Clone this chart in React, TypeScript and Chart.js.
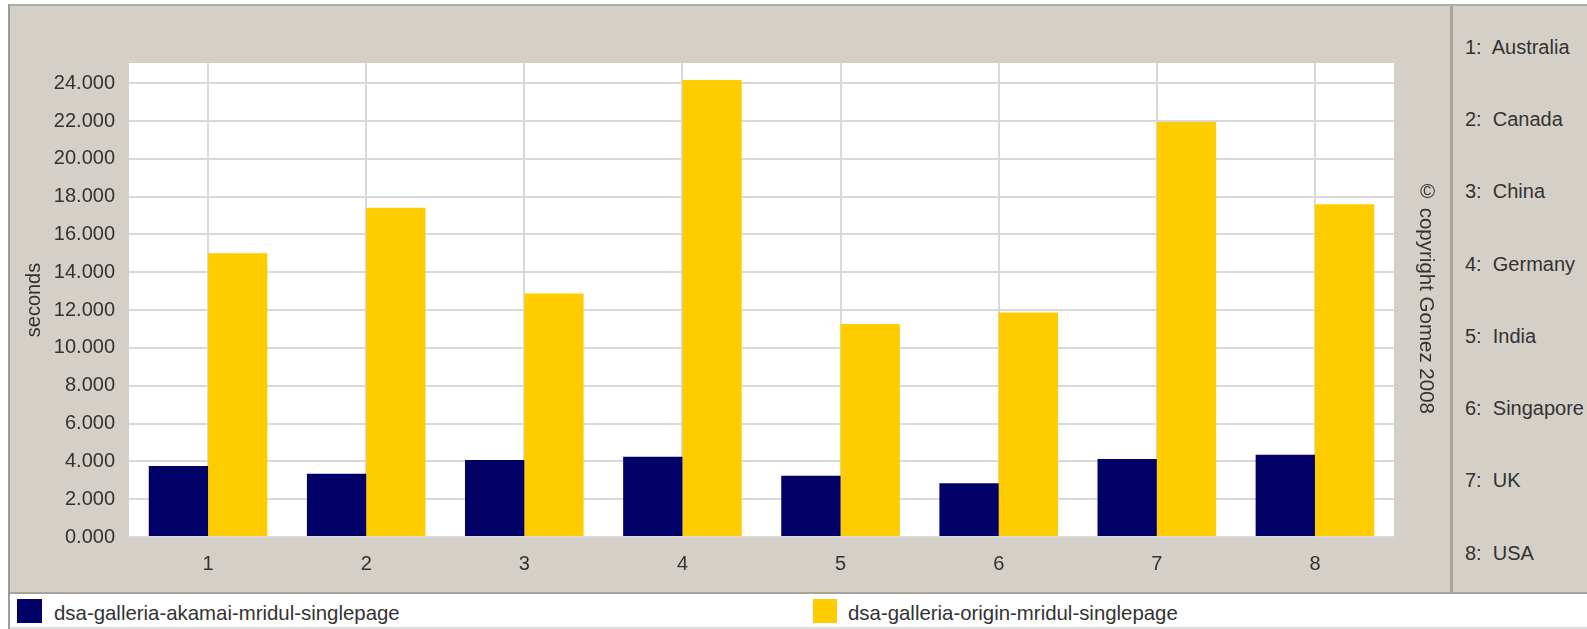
import React, { useEffect, useRef } from "react";
import { Chart, registerables } from "chart.js";

Chart.register(...registerables);

const countryNames = ["Australia", "Canada", "China", "Germany", "India", "Singapore", "UK", "USA"];
const categoryLabels = ["1", "2", "3", "4", "5", "6", "7", "8"];
const seriesNames = ["dsa-galleria-akamai-mridul-singlepage", "dsa-galleria-origin-mridul-singlepage"];
const akamaiSeconds = [3.75, 3.35, 4.07, 4.24, 3.24, 2.84, 4.12, 4.35];
const originSeconds = [15.01, 17.42, 12.88, 24.17, 11.27, 11.87, 21.95, 17.6];
const yAxisTitle = "seconds";
const copyrightText = "© copyright Gomez 2008";
const yMax = 25.07;
const yStep = 2;

const FONT = '"Liberation Sans", Arial, Helvetica, sans-serif';
const TEXT = "#333333";
const GRID = "#d9d9d9";
const PANEL = "#d4d0c8";
const NAVY = "#000066";
const YELLOW = "#ffcc00";

const plotBackground = {
  id: "plotBackground",
  beforeDraw(chart: any) {
    const { ctx, chartArea: a } = chart;
    ctx.save();
    ctx.fillStyle = "#ffffff";
    ctx.fillRect(a.left, a.top, a.right - a.left, a.bottom - a.top);
    ctx.restore();
  },
};

export default function App() {
  const canvasRef = useRef<HTMLCanvasElement | null>(null);

  useEffect(() => {
    if (!canvasRef.current) return;
    const font = { family: FONT, size: 20 };
    const chart = new Chart(canvasRef.current, {
      type: "bar",
      data: {
        labels: categoryLabels,
        datasets: [
          { label: seriesNames[0], data: akamaiSeconds, backgroundColor: NAVY, borderWidth: 0 },
          { label: seriesNames[1], data: originSeconds, backgroundColor: YELLOW, borderWidth: 0 },
        ],
      },
      options: {
        animation: false,
        responsive: false,
        maintainAspectRatio: false,
        devicePixelRatio: 1,
        layout: { padding: { top: 57, right: 56, left: 0, bottom: 0 } },
        plugins: { legend: { display: false }, tooltip: { enabled: false } },
        datasets: { bar: { categoryPercentage: 0.75, barPercentage: 1 } } as any,
        scales: {
          x: {
            offset: true,
            grid: { offset: false, color: GRID, lineWidth: 2, drawTicks: false },
            border: { display: false },
            ticks: { padding: 15, color: TEXT, font },
            afterFit: (s: any) => {
              s.height = 55;
            },
          },
          y: {
            min: 0,
            max: yMax,
            grid: { color: GRID, lineWidth: 2, drawTicks: false },
            border: { display: false },
            ticks: {
              stepSize: yStep,
              includeBounds: false,
              padding: 14,
              color: TEXT,
              font,
              callback: (v: any) => Number(v).toFixed(3),
            },
            title: {
              display: true,
              text: yAxisTitle,
              color: TEXT,
              font,
              padding: { top: 12, bottom: 0 },
            },
            afterFit: (s: any) => {
              s.width = 119;
            },
          },
        },
      },
      plugins: [plotBackground],
    });
    return () => chart.destroy();
  }, []);

  const abs = (s: React.CSSProperties): React.CSSProperties => ({ position: "absolute", ...s });

  return (
    <div
      style={abs({
        left: 0,
        top: 0,
        width: 1587,
        height: 629,
        overflow: "hidden",
        background: "#ffffff",
        fontFamily: FONT,
        color: TEXT,
        fontSize: 20,
      })}
    >
      <div style={abs({ left: 10, top: 6, width: 1577, height: 586, background: PANEL })} />
      <div style={abs({ left: 8, top: 4, width: 1579, height: 2, background: "#ababab" })} />
      <div style={abs({ left: 8, top: 4, width: 2, height: 625, background: "#9c9c9c" })} />
      <div style={abs({ left: 10, top: 592, width: 1577, height: 2, background: "#a8a49c" })} />
      <div style={abs({ left: 1450, top: 6, width: 3, height: 586, background: "#a8a49c" })} />
      <div style={abs({ left: 10, top: 627, width: 1577, height: 2, background: "#dedede" })} />

      <canvas
        ref={canvasRef}
        width={1440}
        height={586}
        style={abs({ left: 10, top: 6, width: 1440, height: 586 })}
      />

      <div
        style={abs({
          left: 1416,
          top: 179,
          writingMode: "vertical-rl",
          lineHeight: "22px",
          fontSize: 20.5,
          whiteSpace: "nowrap",
        })}
      >
        {copyrightText}
      </div>

      {countryNames.map((name, i) => (
        <div
          key={name}
          style={abs({
            left: 1465,
            top: 46.8 + i * 72.24 - 11.8,
            lineHeight: "24px",
            whiteSpace: "pre",
          })}
        >
          {`${i + 1}:  ${name}`}
        </div>
      ))}

      <div style={abs({ left: 17, top: 599, width: 25, height: 24, background: NAVY })} />
      <div style={abs({ left: 54, top: 601, lineHeight: "24px", whiteSpace: "nowrap", fontSize: 20.4 })}>
        {seriesNames[0]}
      </div>
      <div style={abs({ left: 813, top: 599, width: 24, height: 24, background: YELLOW })} />
      <div style={abs({ left: 848, top: 601, lineHeight: "24px", whiteSpace: "nowrap", fontSize: 20.4 })}>
        {seriesNames[1]}
      </div>
    </div>
  );
}
